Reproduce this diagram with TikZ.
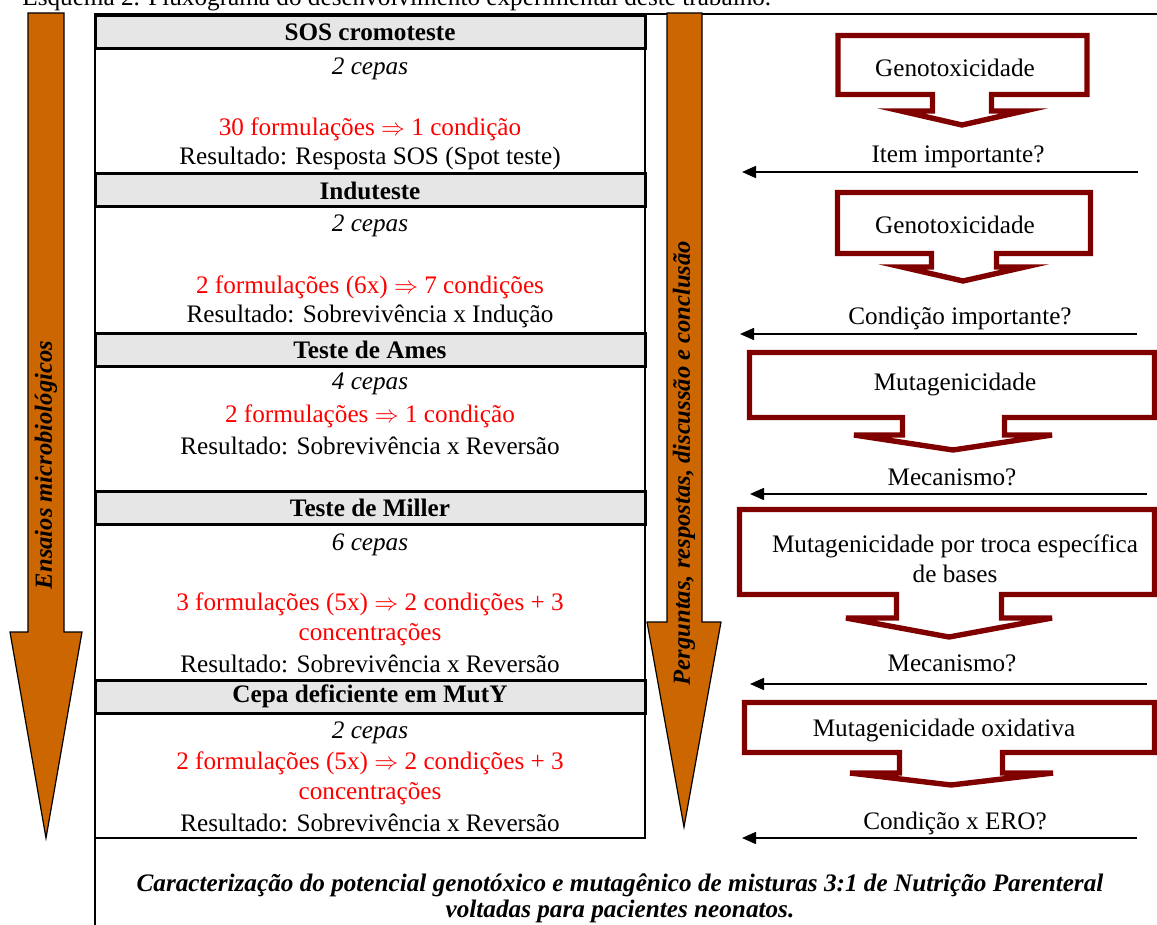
\documentclass[tikz,border=0pt]{standalone}
\usepackage{fontspec}
\setmainfont{Liberation Serif}
\usetikzlibrary{arrows.meta}
\definecolor{ocre}{HTML}{CC6600}
\definecolor{vinho}{HTML}{800000}
\definecolor{cinza}{HTML}{E6E6E6}

\begin{document}
\fontsize{12.6}{15}\selectfont
\begin{tikzpicture}
      [x=0.5pt, y=-0.5pt,
      head/.style={draw=black, fill=cinza, line width=1.5pt, minimum width=275pt,
        minimum height=16.5pt, inner sep=0pt, font=\fontsize{12.6}{15}\selectfont\bfseries},
      txt/.style={inner sep=0pt, align=center},
      cepas/.style={txt, font=\fontsize{12.6}{15}\selectfont\itshape},
      form/.style={txt, text=red},
      fluxo/.style={draw=black, fill=ocre, line width=0.6pt},
      rotulo/.style={rotate=90, inner sep=0pt, font=\fontsize{12.3}{15}\selectfont\bfseries\itshape},
      balao/.style={draw=vinho, fill=white, line width=2.7pt, line join=miter},
      seta/.style={-{Triangle[length=7pt,width=6pt]}, line width=0.8pt}]
      \useasboundingbox (0,0) rectangle (1157,925);
      \node (esq) at (22,6) [anchor=base west, inner sep=0pt]
        {Esquema 2. Fluxograma do desenvolvimento experimental deste trabalho.};
      \draw[line width=1pt] (1157,14) -- (95,14) -- (95,925);
      \draw[line width=1pt] (645,14) -- (645,838) -- (95,838);
      \draw[fluxo] (28,13) -- (64,13) -- (64,632) -- (82,632) -- (46,838)
        -- (10,632) -- (28,632) -- cycle;
      \node (ens) at (46,465) [rotulo] {Ensaios microbiológicos};
      \draw[fluxo] (667,13) -- (702,13) -- (702,622) -- (721,622) -- (684,827)
        -- (647,622) -- (667,622) -- cycle;
      \node (perg) at (684,463) [rotulo] {Perguntas, respostas, discussão e conclusão};
      \node (sos) at (370,32) [head] {SOS cromoteste};
      \node (sosc) at (370,69) [cepas] {2 cepas};
      \node (sosf) at (370,129) [form] {30 formulações $\Rightarrow$ 1 condição};
      \node (sosr) at (370,158) [txt] {Resultado: Resposta SOS (Spot teste)};
      \node (ind) at (370,190.5) [head] {Induteste};
      \node (indc) at (370,226) [cepas] {2 cepas};
      \node (indf) at (370,287) [form] {2 formulações (6x) $\Rightarrow$ 7 condições};
      \node (indr) at (370,316) [txt] {Resultado: Sobrevivência x Indução};
      \node (ames) at (370,350) [head] {Teste de Ames};
      \node (amesc) at (370,384) [cepas] {4 cepas};
      \node (amesf) at (370,416) [form] {2 formulações $\Rightarrow$ 1 condição};
      \node (amesr) at (370,446) [txt] {Resultado: Sobrevivência x Reversão};
      \node (mil) at (370,508) [head] {Teste de Miller};
      \node (milc) at (370,545) [cepas] {6 cepas};
      \node (milf) at (370,619) [form] {3 formulações (5x) $\Rightarrow$ 2 condições + 3\\concentrações};
      \node (milr) at (370,664) [txt] {Resultado: Sobrevivência x Reversão};
      \node (muty) at (370,696.5) [head] {Cepa deficiente em MutY};
      \node (mutyc) at (370,733) [cepas] {2 cepas};
      \node (mutyf) at (370,778) [form] {2 formulações (5x) $\Rightarrow$ 2 condições + 3\\concentrações};
      \node (mutyr) at (370,823) [txt] {Resultado: Sobrevivência x Reversão};
      \draw[balao] (838,35.5) -- (1087,35.5) -- (1087,94.5) -- (991.5,94.5) -- (991.5,111)
        -- (1024,111) -- (962,125) -- (901,111) -- (932.5,111) -- (932.5,94.5) -- (838,94.5) -- cycle;
      \node (gen1) at (955,68) [txt] {Genotoxicidade};
      \draw[balao] (837.5,192.5) -- (1090.5,192.5) -- (1090.5,253.5) -- (996.5,253.5) -- (996.5,267)
        -- (1025,267) -- (963,281) -- (902,267) -- (931.5,267) -- (931.5,253.5) -- (837.5,253.5) -- cycle;
      \node (gen2) at (955,225) [txt] {Genotoxicidade};
      \draw[balao] (749.5,352.5) -- (1154.5,352.5) -- (1154.5,417.5) -- (1004.5,417.5) -- (1004.5,435)
        -- (1052,435) -- (953,450) -- (854,435) -- (902.5,435) -- (902.5,417.5) -- (749.5,417.5) -- cycle;
      \node (mut1) at (955,384) [txt] {Mutagenicidade};
      \draw[balao] (739.5,509.5) -- (1154.5,509.5) -- (1154.5,594.5) -- (1001.5,594.5) -- (1001.5,618)
        -- (1052,618) -- (949,637) -- (846,618) -- (896.5,618) -- (896.5,594.5) -- (739.5,594.5) -- cycle;
      \node (mut2) at (955,559) [txt] {Mutagenicidade por troca específica\\de bases};
      \draw[balao] (744.5,702.5) -- (1154.5,702.5) -- (1154.5,752.5) -- (1002.5,752.5) -- (1002.5,773)
        -- (1053,773) -- (951,785) -- (850,773) -- (899.5,773) -- (899.5,752.5) -- (744.5,752.5) -- cycle;
      \node (mut3) at (944,730) [txt] {Mutagenicidade oxidativa};
      \coordinate (p1a) at (1138,172);
      \coordinate (p1b) at (742,172);
      \draw[seta] (p1a) -- (p1b);
      \node (p1) at (958,157) [txt] {Item importante?};
      \coordinate (p2a) at (1137,334);
      \coordinate (p2b) at (740,334);
      \draw[seta] (p2a) -- (p2b);
      \node (p2) at (960,318) [txt] {Condição importante?};
      \coordinate (p3a) at (1147,494);
      \coordinate (p3b) at (750,494);
      \draw[seta] (p3a) -- (p3b);
      \node (p3) at (952,477) [txt] {Mecanismo?};
      \coordinate (p4a) at (1147,684);
      \coordinate (p4b) at (750,684);
      \draw[seta] (p4a) -- (p4b);
      \node (p4) at (952,663) [txt] {Mecanismo?};
      \coordinate (p5a) at (1137,838);
      \coordinate (p5b) at (742,838);
      \draw[seta] (p5a) -- (p5b);
      \node (p5) at (955,823) [txt] {Condição x ERO?};
      \node (carac) at (620,898) [txt, font=\fontsize{12.6}{13}\selectfont\bfseries\itshape]
        {Caracterização do potencial genotóxico e mutagênico de misturas 3:1 de Nutrição Parenteral\\
        voltadas para pacientes neonatos.};
    \end{tikzpicture}
\end{document}
